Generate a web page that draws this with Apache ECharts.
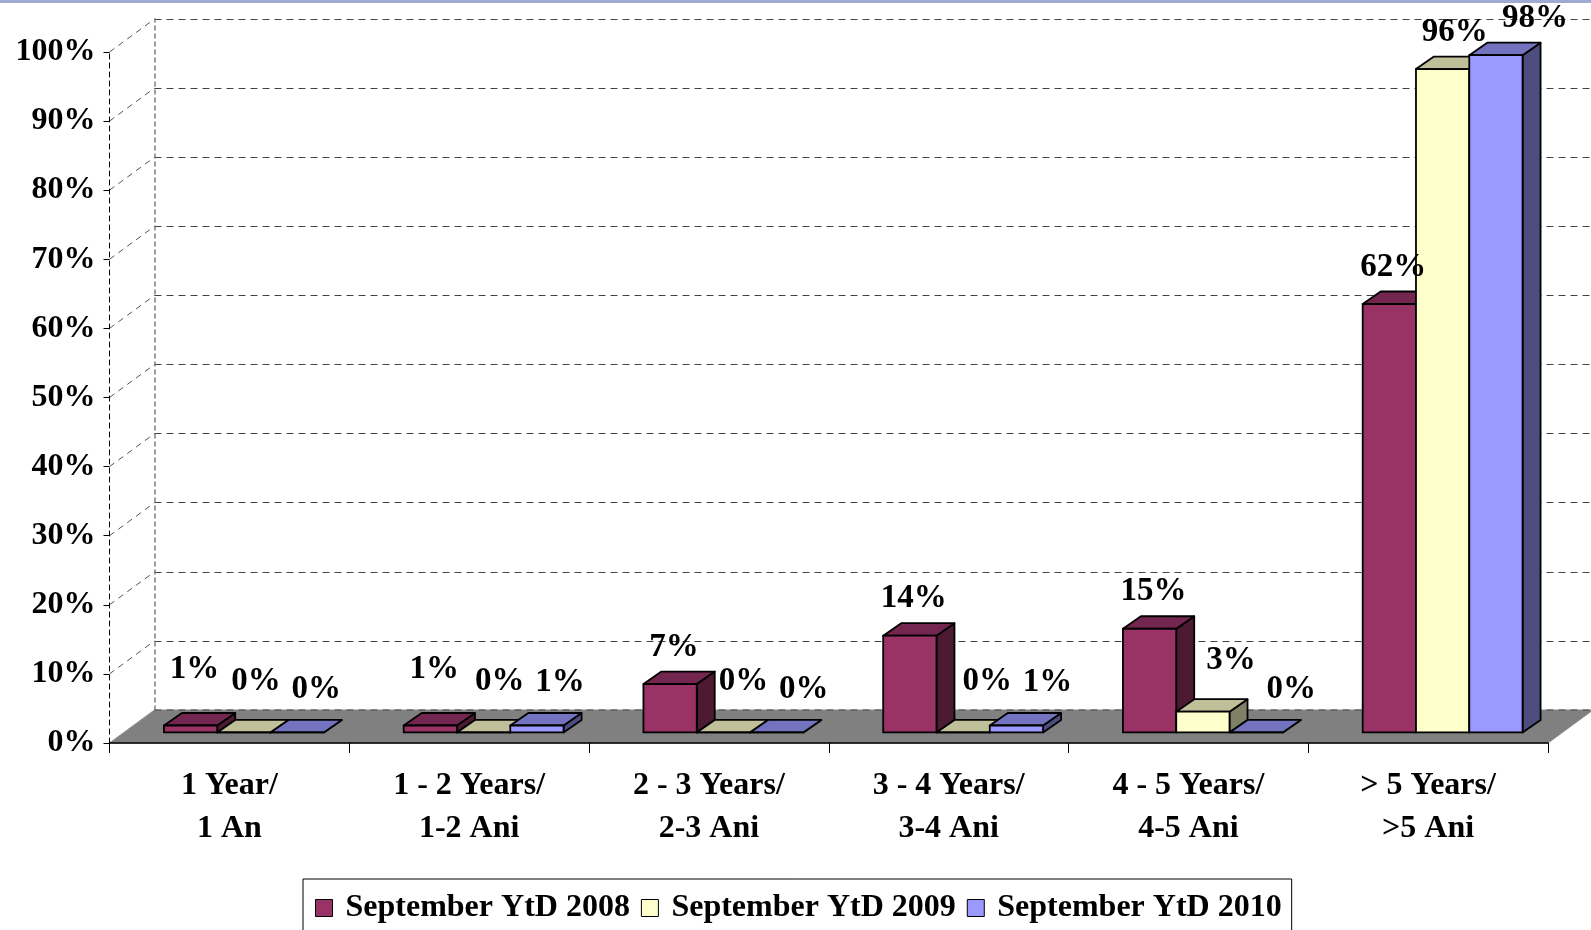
<!DOCTYPE html>
<html>
<head>
<meta charset="utf-8">
<script src="https://cdn.jsdelivr.net/npm/echarts@6/dist/echarts.min.js"></script>
<style>
  html, body { margin: 0; padding: 0; background: #fff; }
  #chart { width: 1591px; height: 930px; }
</style>
</head>
<body>
<div id="chart"></div>
<script>
// ---- data ----
const categories = ['1 Year/\n1 An', '1 - 2 Years/\n1-2 Ani', '2 - 3 Years/\n2-3 Ani', '3 - 4 Years/\n3-4 Ani', '4 - 5 Years/\n4-5 Ani', '> 5 Years/\n>5 Ani'];
const seriesNames = ['September YtD 2008', 'September YtD 2009', 'September YtD 2010'];
const values2008 = [1, 1, 7, 14, 15, 62];
const values2009 = [0, 0, 0, 0, 3, 96];
const values2010 = [0, 1, 0, 1, 0, 98];
const yTicks = [0, 10, 20, 30, 40, 50, 60, 70, 80, 90, 100];

// ---- styling / projection constants ----
const FONT = "'Liberation Serif', 'Times New Roman', serif";
const WALL_DX = 45, WALL_DY = -33;          // depth of floor / back wall
const FRONT_DX = 14.5, FRONT_DY = -10.6;    // bar front plane offset
const BAR_DX = 18, BAR_DY = -12.5;          // bar depth
const BAR_FRAC = 0.2223;                    // bar width as share of category
const faceColors = [
  { front: '#993366', top: '#732650', side: '#4d1a33' },
  { front: '#ffffcc', top: '#bfbf99', side: '#808066' },
  { front: '#9999ff', top: '#7373bf', side: '#4d4d80' }
];
// label placement (pixels relative to bar top-front centre)
const labelDx = [4, 12, 19];
const labelDxDrift = [0, 4, 4];
const labelDyLow = [-56, -51, -43];
const labelDyTall = -37;

const allValues = [values2008, values2009, values2010];

function barRenderer(k) {
  const c = faceColors[k];
  return function (params, api) {
    const ci = api.value(0), v = api.value(1);
    const base = api.coord([ci, 0]);
    const topP = api.coord([ci, v]);
    const catW = api.size([1, 0])[0];
    const bw = catW * BAR_FRAC;
    const cx = base[0] + FRONT_DX + (k - 1) * bw;
    const x0 = cx - bw / 2, x1 = cx + bw / 2;
    const yb = base[1] + FRONT_DY, yt = topP[1] + FRONT_DY;
    const stroke = { stroke: '#000', lineWidth: 1.8, lineJoin: 'round' };
    const tall = (yb - yt) > 40;
    const lx = cx + labelDx[k] + (tall && k === 1 ? 0 : labelDxDrift[k] * ci);
    const ly = yt + (tall ? labelDyTall : labelDyLow[k]);
    return {
      type: 'group',
      children: [
        { type: 'polygon', shape: { points: [[x1, yt], [x1 + BAR_DX, yt + BAR_DY], [x1 + BAR_DX, yb + BAR_DY], [x1, yb]] },
          style: Object.assign({ fill: c.side }, stroke) },
        { type: 'polygon', shape: { points: [[x0, yt], [x1, yt], [x1 + BAR_DX, yt + BAR_DY], [x0 + BAR_DX, yt + BAR_DY]] },
          style: Object.assign({ fill: c.top }, stroke) },
        { type: 'rect', shape: { x: x0, y: yt, width: bw, height: Math.max(yb - yt, 0) },
          style: Object.assign({ fill: c.front }, stroke) },
        { type: 'text', z2: 100, x: lx, y: ly,
          style: { text: v + '%', fill: '#000', fontSize: 33, fontWeight: 'bold', fontFamily: FONT,
                   align: 'center', verticalAlign: 'middle' } }
      ]
    };
  };
}

const barSeries = allValues.map(function (vals, k) {
  return {
    name: seriesNames[k],
    type: 'custom',
    xAxisIndex: 0, yAxisIndex: 0,
    clip: false,
    z: 3,
    itemStyle: { color: faceColors[k].front },
    encode: { x: 0, y: 1 },
    data: vals.map(function (v, i) { return [i, v]; }),
    renderItem: barRenderer(k)
  };
});

const floorSeries = {
  type: 'custom', xAxisIndex: 0, yAxisIndex: 0, clip: false, z: 1, silent: true,
  data: [[0, 0]],
  renderItem: function (params, api) {
    const cs = params.coordSys;
    const y0 = api.coord([0, yTicks[0]])[1];
    const xl = cs.x, xr = cs.x + cs.width;
    return {
      type: 'group',
      children: [
        { type: 'polygon', shape: { points: [[xl, y0], [xr, y0], [xr + WALL_DX, y0 + WALL_DY], [xl + WALL_DX, y0 + WALL_DY]] },
          style: { fill: '#808080', stroke: '#8a8a8a', lineWidth: 1 } },
        { type: 'line', shape: { x1: xl + WALL_DX, y1: y0 + WALL_DY, x2: xr + WALL_DX, y2: y0 + WALL_DY },
          style: { stroke: '#444', lineWidth: 1, lineDash: [7, 5] } }
      ]
    };
  }
};

const connectorSeries = {
  type: 'custom', xAxisIndex: 0, yAxisIndex: 0, clip: false, z: 1, silent: true,
  data: yTicks.map(function (t) { return [0, t]; }),
  renderItem: function (params, api) {
    const cs = params.coordSys;
    const y = api.coord([0, api.value(1)])[1];
    const isBase = api.value(1) === yTicks[0];
    return {
      type: 'line', z2: 5,
      shape: { x1: cs.x, y1: y, x2: cs.x + WALL_DX, y2: y + WALL_DY },
      style: { stroke: isBase ? '#a0a0a0' : '#555', lineWidth: 1, lineDash: isBase ? [3, 4] : [6, 5] }
    };
  }
};

const chart = echarts.init(document.getElementById('chart'), null, { renderer: 'canvas' });
chart.setOption({
  animation: false,
  backgroundColor: '#ffffff',
  graphic: [
    { type: 'rect', left: 0, top: 0, shape: { width: 1591, height: 3 }, style: { fill: '#9dabd3' } }
  ],
  grid: [
    { left: 109.5, top: 52, width: 1438.5, height: 691 },
    { left: 154.5, top: 19, width: 1436.5, height: 691 }
  ],
  legend: {
    data: seriesNames,
    left: 303, top: 879,
    orient: 'horizontal',
    icon: 'rect',
    itemWidth: 17, itemHeight: 17, itemGap: 11,
    padding: [13, 10, 30, 12],
    borderColor: '#000', borderWidth: 1,
    itemStyle: { borderColor: '#000', borderWidth: 1 },
    textStyle: { fontSize: 32, fontWeight: 'bold', fontFamily: FONT, color: '#000', lineHeight: 32, padding: [0, 0, 0, 8] }
  },
  xAxis: [
    {
      gridIndex: 0, type: 'category', data: categories, z: 5,
      axisLine: { show: true, lineStyle: { color: '#000', width: 1.5 } },
      axisTick: { show: true, length: 10, lineStyle: { color: '#000' } },
      axisLabel: { margin: 21, fontSize: 32, fontWeight: 'bold', fontFamily: FONT, color: '#000', lineHeight: 43, interval: 0 },
      splitLine: { show: false }
    },
    { gridIndex: 1, type: 'value', show: false, min: 0, max: 1 }
  ],
  yAxis: [
    {
      gridIndex: 0, type: 'value', min: yTicks[0], max: yTicks[yTicks.length - 1], interval: yTicks[1] - yTicks[0], z: 5,
      axisLine: { show: true, lineStyle: { color: '#000', width: 1, type: [5, 4] } },
      axisTick: { show: true, length: 6, lineStyle: { color: '#000' } },
      axisLabel: { formatter: '{value}%', margin: 14, fontSize: 32, fontWeight: 'bold', fontFamily: FONT, color: '#000' },
      splitLine: { show: false }
    },
    {
      gridIndex: 1, type: 'value', min: yTicks[0], max: yTicks[yTicks.length - 1], interval: yTicks[1] - yTicks[0],
      axisLine: { show: true, lineStyle: { color: '#808080', width: 1.5, type: [4, 4] } },
      axisTick: { show: false },
      axisLabel: { show: false },
      splitLine: { show: true, lineStyle: { color: '#444', width: 1, type: [7, 5] } }
    }
  ],
  series: [floorSeries, connectorSeries].concat(barSeries)
});
</script>
</body>
</html>
